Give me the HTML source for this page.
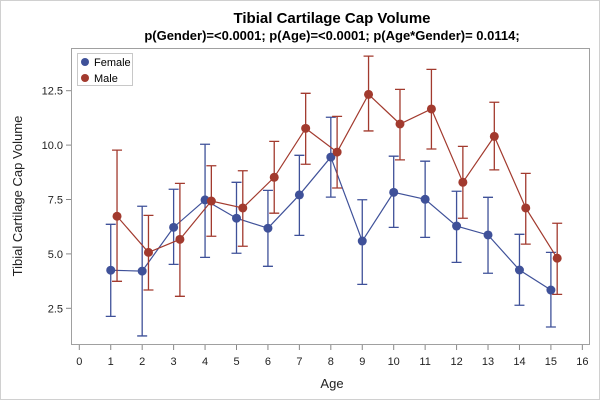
<!DOCTYPE html>
<html><head><meta charset="utf-8"><style>
body{margin:0;background:#fff;}
svg{display:block;font-family:"Liberation Sans",Arial,sans-serif;}
</style></head><body>
<svg id="chart" width="600" height="400">
<rect x="0.5" y="0.5" width="599" height="399" fill="#fff" stroke="#d0d0d0"/>
<text x="332" y="23" text-anchor="middle" font-size="15" font-weight="bold">Tibial Cartilage Cap Volume</text>
<text x="332" y="40" text-anchor="middle" font-size="13" font-weight="bold">p(Gender)=&lt;0.0001; p(Age)=&lt;0.0001; p(Age*Gender)= 0.0114;</text>
<rect x="71.5" y="48.5" width="518" height="296" fill="none" stroke="#a0a0a0"/>
<text x="332" y="388" text-anchor="middle" font-size="13" fill="#222">Age</text>
<text transform="translate(22,196) rotate(-90)" text-anchor="middle" font-size="13" fill="#222">Tibial Cartilage Cap Volume</text>
<g id="axes"></g>
<g id="marks"></g>
<g>
<rect x="77.5" y="53.5" width="55" height="32" fill="#fff" stroke="#c8c8c8"/>
<circle cx="85" cy="62" r="4" fill="#3f5199"/>
<text x="94" y="66" font-size="11">Female</text>
<circle cx="85" cy="78" r="4" fill="#a23a2e"/>
<text x="94" y="82" font-size="11">Male</text>
</g>
</svg>
<script>
const ages=[1,2,3,4,5,6,7,8,9,10,11,12,13,14,15];
const femaleMean=[4.25,4.21,6.22,7.48,6.64,6.18,7.71,9.45,5.59,7.83,7.51,6.28,5.87,4.26,3.34];
const femaleUpper=[6.36,7.19,7.97,10.04,8.29,7.92,9.53,11.28,7.49,9.49,9.26,7.88,7.60,5.90,5.07];
const femaleLower=[2.13,1.23,4.52,4.84,5.03,4.43,5.85,7.61,3.60,6.22,5.76,4.61,4.11,2.64,1.64];
const maleMean=[6.73,5.07,5.67,7.43,7.11,8.52,10.77,9.68,12.33,10.97,11.66,8.29,10.40,7.11,4.80];
const maleUpper=[9.77,6.77,8.24,9.05,8.82,10.17,12.38,11.32,14.09,12.56,13.48,9.94,11.97,8.70,6.41];
const maleLower=[3.74,3.34,3.05,5.81,5.35,6.87,9.12,8.03,10.65,9.32,9.82,6.64,8.86,5.45,3.14];
const xTicks=[0,1,2,3,4,5,6,7,8,9,10,11,12,13,14,15,16];
const yTicks=[2.5,5.0,7.5,10.0,12.5];
const yTickLabels=["2.5","5.0","7.5","10.0","12.5"];

const X=v=>79.3+v*31.44;
const Y=v=>308.3-(v-2.5)*21.76;
const NS="http://www.w3.org/2000/svg";
function mk(tag,attrs,parent){const e=document.createElementNS(NS,tag);for(const k in attrs)e.setAttribute(k,attrs[k]);parent.appendChild(e);return e;}
const axes=document.getElementById('axes'),marks=document.getElementById('marks');
xTicks.forEach(t=>{
  const l=mk('line',{x1:X(t),x2:X(t),y1:345,y2:350,stroke:'#888'},axes);
  
  
  const tx=mk('text',{x:X(t),y:365,'text-anchor':'middle','font-size':11,fill:'#222'},axes);
  tx.textContent=t;
  
  
});
yTicks.forEach((t,i)=>{
  const l=mk('line',{x1:66,x2:71,y1:Y(t),y2:Y(t),stroke:'#888'},axes);
  
  
  const tx=mk('text',{x:63,y:Y(t)+4,'text-anchor':'end','font-size':11,fill:'#222'},axes);
  tx.textContent=yTickLabels[i];
  
  
});
function series(mean,up,lo,off,color,name){
  const g=mk('g',{},marks);
  
  
  const pl=mk('polyline',{points:ages.map((a,i)=>X(a+off)+','+Y(mean[i])).join(' '),fill:'none',stroke:color,'stroke-width':1.2},g);
  
  
  ages.forEach((a,i)=>{
    const x=X(a+off);
    const eb=mk('path',{d:`M${x},${Y(lo[i])}V${Y(up[i])}M${x-5},${Y(lo[i])}H${x+5}M${x-5},${Y(up[i])}H${x+5}`,stroke:color,'stroke-width':1.3,fill:'none'},g);
    
    
  });
  ages.forEach((a,i)=>{
    const c=mk('circle',{cx:X(a+off),cy:Y(mean[i]),r:4.5,fill:color},g);
    
    
  });
}
series(femaleMean,femaleUpper,femaleLower,0,'#3f5199','female');
series(maleMean,maleUpper,maleLower,0.2,'#a23a2e','male');
</script>
</body></html>
